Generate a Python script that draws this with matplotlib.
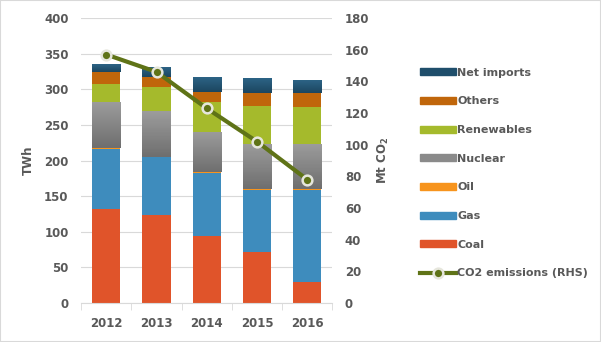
import numpy as np
import matplotlib.pyplot as plt
from matplotlib.lines import Line2D
from matplotlib.patches import Patch, Rectangle
from matplotlib.colors import LinearSegmentedColormap

years = ["2012", "2013", "2014", "2015", "2016"]
coal = [132, 124, 94, 72, 30]
gas = [84, 81, 89, 87, 129]
oil = [1.5, 0.5, 0.5, 0.5, 0.5]
nuclear = [65, 64, 57, 64, 64]
renewables = [25, 34, 42, 53, 52]
others = [17, 14, 14, 19, 20]
net_imports = [11, 14, 21, 21, 18]
co2 = [157, 146, 123, 102, 78]

series = [("Coal", coal, "#e0542a"),
          ("Gas", gas, "#3e8cbd"),
          ("Oil", oil, "#f7941d"),
          ("Nuclear", nuclear, "#8a8a8a"),
          ("Renewables", renewables, "#a5ba2c"),
          ("Others", others, "#c0660b"),
          ("Net imports", net_imports, "#1f4e6b")]
# top/bottom colours for the shaded segments
gradients = {"Nuclear": ("#9c9c9c", "#6f6f6f"),
             "Net imports": ("#2c6385", "#1c4660")}

txt = "#595959"
plt.rcParams['font.family'] = ['DejaVu Sans']
plt.rcParams['font.weight'] = 'bold'

fig = plt.figure(figsize=(6.01, 3.42), dpi=100)
fig.patches.append(Rectangle((0, 0), 1, 1, transform=fig.transFigure,
                             fill=False, edgecolor="#d9d9d9", lw=1.5))
ax = fig.add_axes([0.135, 0.114, 0.418, 0.833])

x = np.arange(len(years))
bottom = np.zeros(len(years))
for name, vals, col in series:
    bars = ax.bar(x, vals, 0.56, bottom=bottom, color=col, label=name, zorder=2)
    if name in gradients:
        cmap = LinearSegmentedColormap.from_list(name, gradients[name][::-1])
        for b in bars:
            bx, by = b.get_x(), b.get_y()
            im = ax.imshow(np.linspace(0, 1, 50).reshape(-1, 1), cmap=cmap,
                           origin="lower", aspect="auto", zorder=3,
                           extent=(bx, bx + b.get_width(), by, by + b.get_height()))
            im.set_clip_path(b)
    bottom += np.array(vals)

ax.set_xlim(-0.5, len(years) - 0.5)
ax.set_ylim(0, 400)
ax.set_yticks(range(0, 401, 50))
ax.yaxis.grid(True, color="#d9d9d9", lw=0.8, zorder=0)
ax.set_axisbelow(True)
for s in ["top", "right", "left"]:
    ax.spines[s].set_visible(False)
ax.spines["bottom"].set_color("#d9d9d9")
ax.set_xticks(x)
ax.set_xticklabels(years)
ax.set_xticks(np.arange(-0.5, len(years), 1), minor=True)
ax.tick_params(axis="x", which="major", length=0, pad=10, labelsize=8.5, colors=txt)
ax.tick_params(axis="x", which="minor", length=5, color="#d9d9d9")
ax.tick_params(axis="y", length=0, labelsize=8.5, colors=txt, pad=9)
ax.set_ylabel("TWh", color=txt, fontsize=8.5, fontweight="bold", labelpad=7)

ax2 = ax.twinx()
ax2.set_ylim(0, 180)
ax2.set_yticks(range(0, 181, 20))
for s in ax2.spines.values():
    s.set_visible(False)
ax2.tick_params(axis="y", length=0, labelsize=8.5, colors=txt, pad=9)
ax2.set_ylabel("Mt CO$_2$", color=txt, fontsize=8.5, fontweight="bold", labelpad=5)
ax2.plot(x, co2, color="#5f7317", lw=3, marker="o", ms=7,
         mfc="#5f7317", mec="#e6e6dc", mew=1.8, zorder=5)

handles = [Patch(color=c) for _, _, c in series][::-1]
labels = [n for n, _, _ in series][::-1]
handles.append(Line2D([], [], color="#5f7317", lw=3, marker="o", ms=7,
                      mfc="#5f7317", mec="#e6e6dc", mew=1.8))
labels.append("CO2 emissions (RHS)")
fig.legend(handles, labels, loc="upper left", bbox_to_anchor=(0.683, 0.831),
           frameon=False, fontsize=8, labelcolor=txt, handlelength=3.2,
           handleheight=0.6, handletextpad=0.1, labelspacing=1.68)

fig.savefig("out.png", dpi=100)
